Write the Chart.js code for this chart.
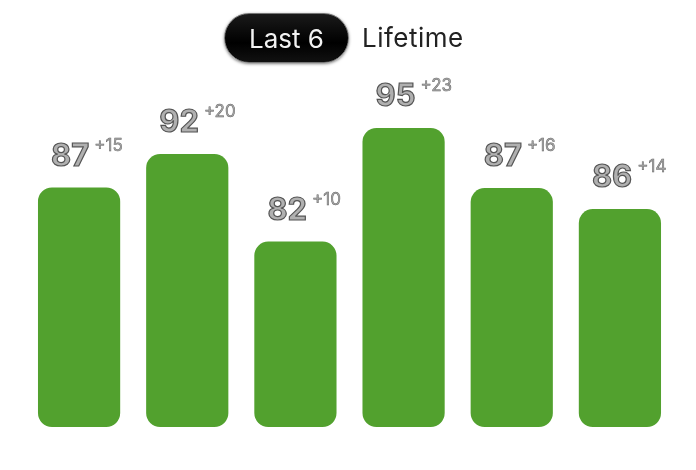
<!DOCTYPE html>
<html>
<head>
<meta charset="utf-8">
<script src="https://cdn.jsdelivr.net/npm/chart.js@4"></script>
<style>
  body { margin: 0; background: #fff; font-family: Inter, "DejaVu Sans", sans-serif; }
  #wrap { position: relative; width: 696px; height: 470px; }
  #tabs { position: absolute; top: 13px; left: 224px; display: flex; align-items: center; }
  .tab { font-size: 26px; height: 50px; line-height: 50px; box-sizing: border-box; }
  .tab.active {
    width: 125px; text-align: center; color: #f2f2f2; border-radius: 25px;
    background: linear-gradient(#1a1a1a, #000 60%, #111);
    border: 1px solid #777; box-shadow: 0 1px 3px rgba(0,0,0,0.5);
  }
  .tab.other { margin-left: 13px; color: #222; letter-spacing: 0.5px; }
  canvas { position: absolute; left: 0; top: 0; }
</style>
</head>
<body>
<div id="wrap">
  <canvas id="barChart" width="696" height="470"></canvas>
  <div id="tabs"><div class="tab active">Last 6</div><div class="tab other">Lifetime</div></div>
</div>
<script>
const categories = ['1', '2', '3', '4', '5', '6'];
const scores = [87, 92, 82, 95, 87, 86];
const gains = ['+15', '+20', '+10', '+23', '+16', '+14'];
// bar height relative to the tallest bar
const barLevels = [80.1, 91.3, 62.0, 100, 79.9, 72.9];

window.onload = function() {
    const ctx = document.getElementById('barChart').getContext('2d');

    const scoreLabels = {
        id: 'scoreLabels',
        afterDatasetsDraw(chart) {
            const c = chart.ctx;
            const meta = chart.getDatasetMeta(0);
            c.save();
            meta.data.forEach((bar, i) => {
                const left = bar.x - 28;
                const base = bar.y - 22;
                c.font = 'bold 31px Inter, "DejaVu Sans", sans-serif';
                c.textAlign = 'left';
                c.textBaseline = 'alphabetic';
                c.lineWidth = 1.2;
                c.strokeStyle = '#555';
                c.fillStyle = '#b0b0b0';
                const s = String(scores[i]);
                c.fillText(s, left, base);
                c.strokeText(s, left, base);
                const w = c.measureText(s).width;
                c.font = '17px Inter, "DejaVu Sans", sans-serif';
                c.lineWidth = 0.5;
                c.strokeStyle = '#666';
                c.fillStyle = '#aaa';
                c.fillText(gains[i], left + w + 5, base - 15);
                c.strokeText(gains[i], left + w + 5, base - 15);
            });
            c.restore();
        }
    };

    new Chart(ctx, {
        type: 'bar',
        data: {
            labels: categories,
            datasets: [{
                data: barLevels,
                backgroundColor: '#52a12e',
                borderWidth: 0,
                borderRadius: 14,
                borderSkipped: false,
                barPercentage: 0.76,
                categoryPercentage: 1
            }]
        },
        options: {
            responsive: false,
            animation: false,
            layout: { padding: { left: 25, right: 22, top: 128, bottom: 43 } },
            plugins: { legend: { display: false }, tooltip: { enabled: false } },
            scales: {
                x: { display: false },
                y: { display: false, min: 0, max: 100 }
            }
        },
        plugins: [scoreLabels]
    });
}
</script>
</body>
</html>
